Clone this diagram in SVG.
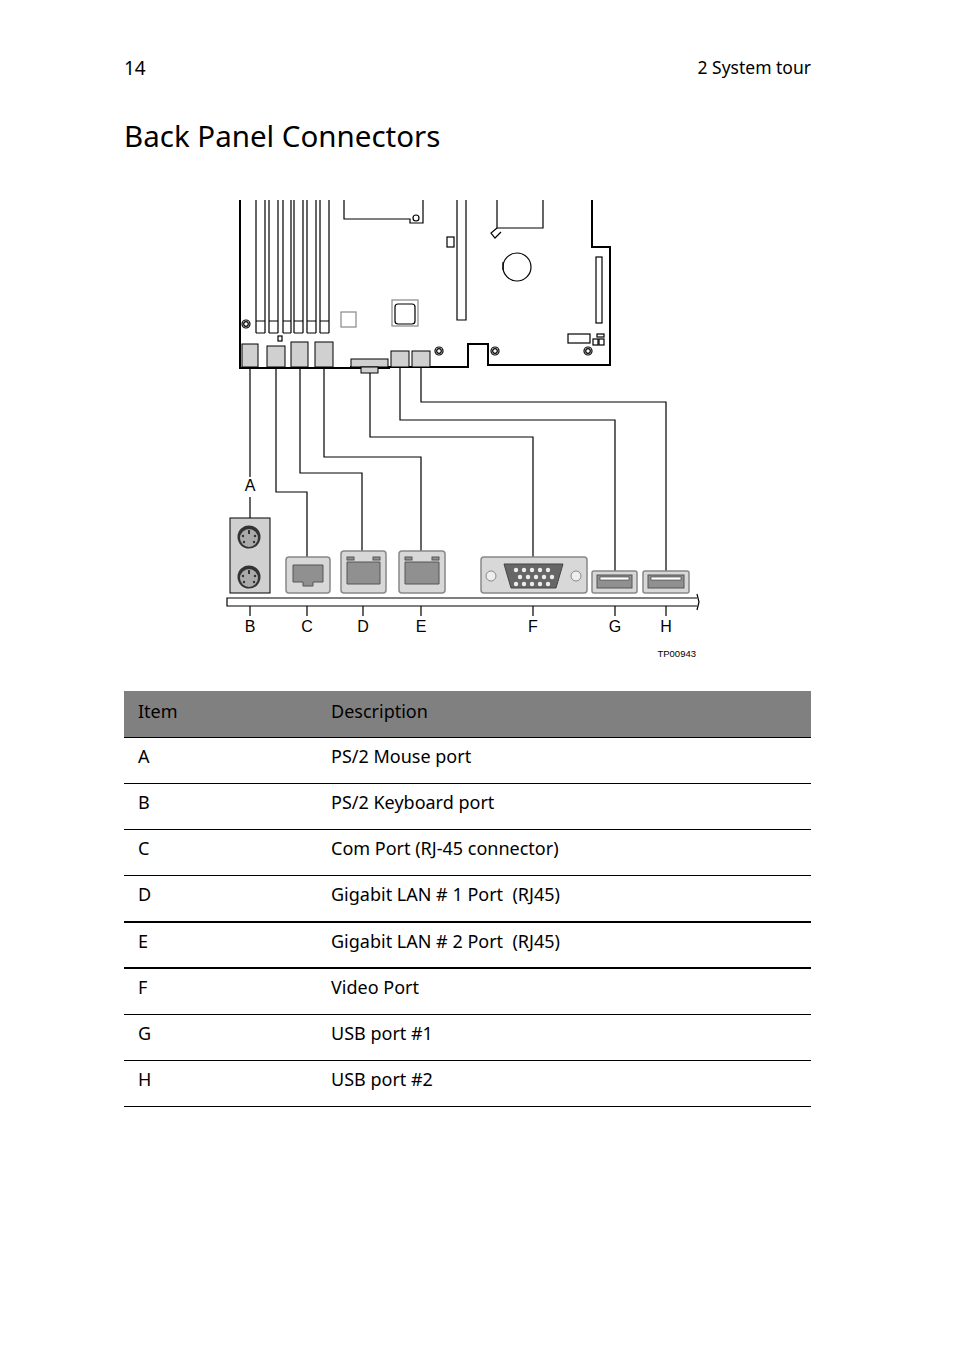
<svg xmlns="http://www.w3.org/2000/svg" width="954" height="1369" viewBox="0 0 954 1369">
<style>
.t{font-family:"Noto Sans","Open Sans",sans-serif;fill:#000}
.a{font-family:"Liberation Sans",Arial,sans-serif;font-size:16px;text-anchor:middle}
.l{fill:none;stroke:#000;stroke-width:1.2}
.b{fill:none;stroke:#000;stroke-width:2}
.g{fill:#d0d0d0;stroke:#000;stroke-width:1}
.p{fill:#d8d8d8;stroke:#888;stroke-width:1.5}
.d{fill:#909090;stroke:#555;stroke-width:1}
</style>
<rect width="954" height="1369" fill="#fff"/>
<text class="t" x="124" y="75" font-size="19">14</text>
<text class="t" x="811" y="74" font-size="17.5" text-anchor="end">2 System tour</text>
<text class="t" x="124" y="147" font-size="29.5">Back Panel Connectors</text>
<g id="board">
<path class="b" d="M240 200V368H390 M350 367H468V344H488V365H610V247H592V200"/>
<g class="l">
<path d="M256 200V333M265 200V333M269 200V333M278 200V333M283 200V333M291 200V333M294 200V333M303 200V333M307 200V333M316 200V333M320 200V333M329 200V333"/>
<path d="M256 321H265M269 321H278M283 321H291M294 321H303M307 321H316M320 321H329M256 333H265M269 333H278M283 333H291M294 333H303M307 333H316M320 333H329"/>
<path d="M344 200V219H410V223H423V200"/>
<circle cx="416" cy="218" r="3"/>
<rect x="447" y="237" width="7" height="10"/>
<path d="M457 200V320H466V200"/>
<path d="M497 200V228H543V200"/>
<path d="M497 228L491 233L495 238L501 232"/>
<circle cx="517" cy="267" r="14"/>
<path d="M503 262V270"/>
<rect x="341" y="312" width="15" height="15" stroke="#888"/>
<rect x="392" y="300" width="26" height="26" stroke="#888"/>
<rect x="395" y="304" width="20" height="20" rx="3"/>
<rect x="596" y="257" width="6" height="66"/>
<rect x="568" y="334" width="22" height="9"/>
<rect x="593" y="339" width="5" height="6"/><rect x="599" y="339" width="5" height="6"/><rect x="597" y="334" width="7" height="3"/>
<circle cx="246" cy="324" r="4"/><circle cx="246" cy="324" r="2.3"/>
<circle cx="439" cy="351" r="4"/><circle cx="439" cy="351" r="2.3"/>
<circle cx="495" cy="351" r="4"/><circle cx="495" cy="351" r="2.3"/>
<circle cx="588" cy="351" r="4"/><circle cx="588" cy="351" r="2.3"/>
<rect x="278" y="336" width="4" height="5"/>
</g>
<rect class="g" x="242" y="344" width="16" height="23"/>
<rect class="g" x="267" y="346" width="18" height="21" stroke-width="2"/>
<rect class="g" x="291" y="342" width="17" height="25" stroke-width="2"/>
<rect class="g" x="315" y="342" width="18" height="25" stroke-width="2"/>
<rect class="g" x="351" y="359" width="37" height="8"/>
<rect class="g" x="361" y="367" width="17" height="6"/>
<rect class="g" x="391" y="351" width="18" height="16"/>
<rect class="g" x="412" y="351" width="18" height="16"/>
</g>
<g id="connectors" class="l">
<path d="M250 367V477M250 497V518"/>
<path d="M276 367V492H307V557"/>
<path d="M300 367V473H362V551"/>
<path d="M324 367V457H421V551"/>
<path d="M370 373V437H533V557"/>
<path d="M400 367V420H615V571"/>
<path d="M421 367V402H666V571"/>
<path d="M250 606V616M307 606V616M363 606V616M421 606V616M533 606V616M615 606V616M666 606V616"/>
</g>
<g id="panel">
<path class="l" d="M697 598H227V606H697" stroke-width="1.5"/>
<path class="l" d="M697 594L699 602L697 610"/>
<rect class="g" x="230" y="518" width="40" height="75"/>
<circle cx="249" cy="537" r="11.5" fill="#333"/><circle cx="249" cy="538" r="9" fill="#aaa"/>
<circle cx="249" cy="577" r="11.5" fill="#333"/><circle cx="249" cy="578" r="9" fill="#aaa"/>
<g fill="#333"><rect x="248" y="530" width="2" height="4"/><circle cx="243" cy="536" r="1.2"/><circle cx="255" cy="536" r="1.2"/><circle cx="244" cy="542" r="1.2"/><circle cx="254" cy="542" r="1.2"/>
<rect x="248" y="570" width="2" height="4"/><circle cx="243" cy="576" r="1.2"/><circle cx="255" cy="576" r="1.2"/><circle cx="244" cy="582" r="1.2"/><circle cx="254" cy="582" r="1.2"/></g>
<rect class="p" x="286" y="557" width="44" height="36" rx="3"/>
<path class="d" d="M293 565H323V582H313V586H303V582H293Z"/>
<rect class="p" x="341" y="551" width="45" height="42" rx="3"/>
<path class="d" d="M347 562H380V584H347Z"/>
<rect x="347" y="557" width="7" height="3" class="d"/><rect x="373" y="557" width="7" height="3" class="d"/>
<rect class="p" x="399" y="551" width="46" height="42" rx="3"/>
<path class="d" d="M405 562H439V584H405Z"/>
<rect x="405" y="557" width="7" height="3" class="d"/><rect x="432" y="557" width="7" height="3" class="d"/>
<rect class="p" x="481" y="557" width="106" height="36" rx="3"/>
<circle cx="491" cy="576" r="5" fill="#eee" stroke="#888"/><circle cx="576" cy="576" r="5" fill="#eee" stroke="#888"/>
<path d="M504 564H563L556 588H511Z" fill="#666" stroke="#444"/>
<g fill="#eee"><circle cx="516" cy="570" r="2.2"/><circle cx="524" cy="570" r="2.2"/><circle cx="532" cy="570" r="2.2"/><circle cx="540" cy="570" r="2.2"/><circle cx="548" cy="570" r="2.2"/><circle cx="520" cy="577" r="2.2"/><circle cx="528" cy="577" r="2.2"/><circle cx="536" cy="577" r="2.2"/><circle cx="544" cy="577" r="2.2"/><circle cx="552" cy="577" r="2.2"/><circle cx="516" cy="584" r="2.2"/><circle cx="524" cy="584" r="2.2"/><circle cx="532" cy="584" r="2.2"/><circle cx="540" cy="584" r="2.2"/><circle cx="548" cy="584" r="2.2"/></g>
<rect class="p" x="592" y="571" width="45" height="22" rx="2"/>
<rect class="d" x="597" y="575" width="35" height="13"/><rect x="600" y="577" width="29" height="3" fill="#fff" stroke="#333" stroke-width="0.6"/>
<rect class="p" x="643" y="571" width="46" height="22" rx="2"/>
<rect class="d" x="648" y="575" width="36" height="13"/><rect x="651" y="577" width="30" height="3" fill="#fff" stroke="#333" stroke-width="0.6"/>
</g>
<g id="labels">
<text class="a" x="250" y="491">A</text>
<text class="a" x="250" y="632">B</text>
<text class="a" x="307" y="632">C</text>
<text class="a" x="363" y="632">D</text>
<text class="a" x="421" y="632">E</text>
<text class="a" x="533" y="632">F</text>
<text class="a" x="615" y="632">G</text>
<text class="a" x="666" y="632">H</text>
<text x="696" y="657" font-family="Liberation Sans,Arial,sans-serif" font-size="9.5" text-anchor="end">TP00943</text>
</g>
<g id="table">
<rect x="124" y="691" width="687" height="46" fill="#808080"/>
<g stroke="#000" stroke-width="1">
<line x1="124" y1="737.5" x2="811" y2="737.5"/><line x1="124" y1="783.5" x2="811" y2="783.5"/><line x1="124" y1="829.5" x2="811" y2="829.5"/><line x1="124" y1="875.5" x2="811" y2="875.5"/>
<line x1="124" y1="922" x2="811" y2="922" stroke-width="2"/><line x1="124" y1="968" x2="811" y2="968" stroke-width="2"/>
<line x1="124" y1="1014.5" x2="811" y2="1014.5"/><line x1="124" y1="1060.5" x2="811" y2="1060.5"/><line x1="124" y1="1106.5" x2="811" y2="1106.5"/>
</g>
<g class="t" font-size="18">
<text x="138" y="718">Item</text><text x="331" y="718">Description</text>
<text x="138" y="763">A</text><text x="331" y="763">PS/2 Mouse port</text>
<text x="138" y="809">B</text><text x="331" y="809">PS/2 Keyboard port</text>
<text x="138" y="855">C</text><text x="331" y="855">Com Port (RJ-45 connector)</text>
<text x="138" y="901">D</text><text x="331" y="901" xml:space="preserve">Gigabit LAN # 1 Port  (RJ45)</text>
<text x="138" y="948">E</text><text x="331" y="948" xml:space="preserve">Gigabit LAN # 2 Port  (RJ45)</text>
<text x="138" y="994">F</text><text x="331" y="994">Video Port</text>
<text x="138" y="1040">G</text><text x="331" y="1040">USB port #1</text>
<text x="138" y="1086">H</text><text x="331" y="1086">USB port #2</text>
</g>
</g>
</svg>
